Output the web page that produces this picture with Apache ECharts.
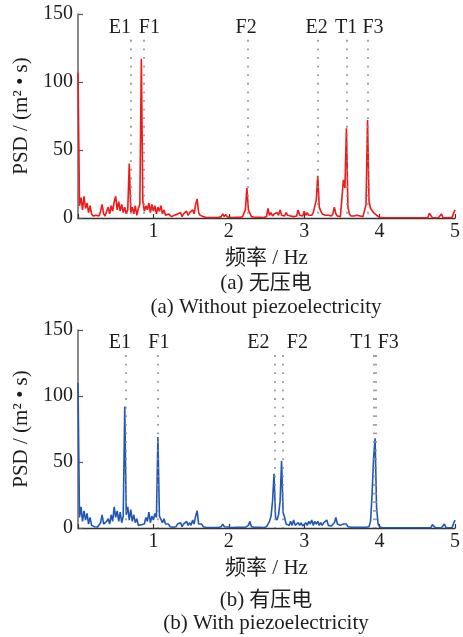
<!DOCTYPE html>
<html>
<head>
<meta charset="utf-8">
<script src="https://cdn.jsdelivr.net/npm/echarts@6/dist/echarts.min.js"></script>
<style>
  html, body { margin: 0; padding: 0; background: #fff; }
  #chart { width: 463px; height: 637px; }
</style>
</head>
<body>
<div id="chart"></div>
<script>
// Power spectral density of the response, sampled every 0.02 Hz from 0 to 5 Hz
const FREQ_STEP = 0.02;

// (a) without piezoelectric elements
const psdWithout = [
  107, 9, 15, 6, 16, 7, 11, 4, 9, 3,
  1.5, 1, 2, 0.8, 1.5, 5, 10, 3, 1.5, 5,
  8, 3, 9, 5, 12, 16, 6, 12, 5, 10,
  4, 8, 3, 6, 40, 4, 8, 3, 9, 2,
  7, 10, 117, 12, 5, 9, 6, 11, 4, 10,
  5, 9, 3, 8, 5, 9, 3, 6, 2, 1,
  3, 4, 1, 0.5, 2, 1, 3, 2, 4, 1,
  3, 2, 5, 2, 4, 3, 6, 3, 10, 14,
  4, 2, 3, 1, 0.5, 0.4, 0.6, 0.4, 0.5, 0.3,
  0.5, 0.4, 0.6, 0.4, 0.5, 1, 3, 1, 2.5, 0.8,
  1, 0.5, 0.6, 0.4, 0.8, 0.5, 0.7, 0.5, 1, 0.8,
  2, 6, 22, 6, 5, 1, 0.8, 0.5, 0.6, 0.5,
  0.8, 0.5, 0.6, 0.4, 0.6, 1, 7, 2, 4, 1.5,
  3, 2, 4, 2, 6, 2, 3, 1.5, 4, 2,
  3, 1.5, 2.5, 1, 2, 1.5, 6, 2, 3, 1.5,
  5, 2, 4, 2, 3, 2, 4, 5, 13, 31,
  8, 5, 3, 4, 2, 3, 2, 3, 1.5, 3,
  8, 3, 1.5, 2, 1, 2, 28, 22, 66, 8,
  3, 1.5, 1, 1.5, 1, 2, 1, 1.5, 0.8, 1,
  2, 10, 72, 12, 7, 8, 4, 5, 2, 3,
  0.5, 0.3, 0.2, 0.2, 0.2, 0.2, 0.2, 0.2, 0.2, 0.2,
  0.2, 0.2, 0.2, 0.2, 0.2, 0.2, 0.2, 0.2, 0.2, 0.2,
  0.2, 0.2, 0.2, 0.2, 0.2, 0.2, 0.2, 0.2, 0.2, 0.2,
  0.2, 0.2, 0.3, 3.5, 3.5, 0.3, 0.2, 0.2, 0.2, 0.2,
  0.3, 3, 0.3, 0.2, 0.2, 0.2, 0.3, 1, 0.3, 0.2,
  6
];

// (b) with piezoelectric elements
const psdWith = [
  110, 8, 16, 5, 13, 6, 11, 3, 8, 2,
  1.5, 1, 2, 0.8, 1.5, 4, 10, 3, 1.5, 5,
  7, 3, 10, 5, 16, 8, 13, 5, 12, 4,
  9, 92, 10, 16, 6, 14, 5, 10, 4, 7,
  2, 1.5, 2.5, 1, 3, 8, 5, 12, 4, 9,
  6, 11, 8, 69, 9, 8, 4, 7, 3, 2,
  3, 1, 2, 0.5, 2, 1, 3, 1.5, 4, 1,
  3, 2, 5, 2, 4, 2, 6, 3, 9, 13,
  3, 2, 3, 1, 0.5, 0.4, 0.6, 0.4, 0.5, 0.3,
  0.5, 0.4, 0.6, 0.4, 0.5, 1, 3, 1, 2.5, 0.8,
  1, 0.5, 0.6, 0.4, 0.8, 0.5, 0.7, 0.5, 1, 0.6,
  0.8, 0.5, 0.7, 2, 5, 1, 0.6, 0.5, 0.6, 0.5,
  0.8, 0.5, 0.6, 0.4, 0.6, 1, 3, 5, 9, 20,
  41, 8, 6, 10, 20, 51, 12, 8, 3, 4,
  2, 5, 2, 6, 2, 3, 4, 2, 4, 1.5,
  3, 4, 2, 5, 3, 6, 2, 5, 3, 5,
  2, 4, 2, 4, 3, 6, 2, 3, 1.5, 3,
  4, 8, 3, 1.5, 2, 1, 3, 2, 3, 1,
  0.8, 0.5, 1, 0.6, 0.8, 0.5, 1.5, 0.6, 0.8, 0.5,
  1, 0.6, 0.8, 1, 5, 25, 53, 68, 15, 3,
  1, 0.3, 0.2, 0.2, 0.2, 0.2, 0.2, 0.2, 0.2, 0.2,
  0.2, 0.2, 0.2, 0.2, 0.2, 0.2, 0.2, 0.2, 0.2, 0.2,
  0.2, 0.2, 0.2, 0.2, 0.2, 0.2, 0.2, 0.2, 0.2, 0.2,
  0.2, 0.2, 0.2, 0.2, 0.3, 2.5, 2.5, 0.3, 0.2, 0.2,
  0.2, 0.2, 0.3, 3, 0.3, 0.2, 0.2, 0.2, 0.3, 1,
  6
];

// Identified modes (name, frequency in Hz)
const modesWithout = ['E1', 'F1', 'F2', 'E2', 'T1', 'F3'];
const modeFreqWithout = [0.70, 0.867, 2.257, 3.178, 3.568, 3.846];
const modesWith = ['E1', 'F1', 'E2', 'F2', 'T1', 'F3'];
const modeFreqWith = [0.634, 1.06, 2.605, 2.71, 3.917, 3.943];

// Axis ranges and labels
const xRange = [0, 5];
const xStep = 1;
const yRange = [0, 150];
const yStep = 50;
const xName = '频率 / Hz';
const yName = 'PSD / (m² • s)';
const captionsA = ['(a) 无压电', '(a) Without piezoelectricity'];
const captionsB = ['(b) 有压电', '(b) With piezoelectricity'];

// Heights (in PSD units) where mode guides end and where their names sit
const guideTop = 131;
const nameLevel = 140;

// Horizontal nudges (px) that keep neighbouring mode names apart
const nudgeA = [-11, 6, -2, -1, -1, 5];
const nudgeB = [-6, 1, -16, 15, -12, 13];

const SERIF = "'Liberation Serif', 'Times New Roman', 'Noto Sans CJK SC', serif";
const TEXT = '#1e1e1e';
const FONT_TICK = 20;
const FONT_TEXT = 21;

function pairs(values) {
  return values.map((v, i) => [+(i * FREQ_STEP).toFixed(2), v]);
}

function xAxisFor(idx) {
  return {
    type: 'value', gridIndex: idx, min: xRange[0], max: xRange[1], interval: xStep,
    axisLine: { show: true, lineStyle: { color: '#333', width: 1.3 } },
    axisTick: { show: true, inside: true, length: 4, lineStyle: { color: '#333', width: 1.2 } },
    axisLabel: {
      margin: 4, color: TEXT, fontSize: FONT_TICK, fontFamily: SERIF,
      formatter: v => (v === 0 ? '' : String(v))
    },
    splitLine: { show: false },
    name: xName, nameLocation: 'middle', nameGap: 30,
    nameTextStyle: { color: TEXT, fontSize: FONT_TEXT, fontFamily: SERIF }
  };
}

function yAxisFor(idx) {
  return {
    type: 'value', gridIndex: idx, min: yRange[0], max: yRange[1], interval: yStep,
    axisLine: { show: true, lineStyle: { color: '#666', width: 1.5 } },
    axisTick: { show: true, inside: true, length: 5, lineStyle: { color: '#555', width: 1.2 } },
    axisLabel: { margin: 5, color: TEXT, fontSize: FONT_TICK, fontFamily: SERIF },
    splitLine: { show: false },
    name: yName, nameLocation: 'middle', nameGap: 43, nameRotate: 90,
    nameTextStyle: { color: TEXT, fontSize: FONT_TEXT, fontFamily: SERIF }
  };
}

function psdSeries(idx, values, color, freqs) {
  return {
    type: 'line', xAxisIndex: idx, yAxisIndex: idx,
    data: pairs(values), showSymbol: false, symbol: 'none',
    lineStyle: { color: color, width: 1.6 },
    z: 2,
    markLine: {
      silent: true, symbol: ['none', 'none'], animation: false,
      label: { show: false },
      lineStyle: { color: '#8c8c8c', width: 1.6, type: [1.8, 6.8] },
      data: freqs.map(f => [{ coord: [f, guideTop] }, { coord: [f, 0] }])
    }
  };
}

function modeNameSeries(idx, names, freqs, nudges) {
  return {
    type: 'scatter', xAxisIndex: idx, yAxisIndex: idx,
    symbolSize: 0, silent: true, z: 5,
    itemStyle: { color: TEXT, opacity: 1 },
    data: freqs.map((f, i) => ({
      value: [f, nameLevel], name: names[i],
      label: { offset: [nudges[i], 0] }
    })),
    label: {
      show: true, position: [0, 0], align: 'center', verticalAlign: 'middle',
      formatter: p => p.name, opacity: 1,
      color: TEXT, textBorderWidth: 0, fontSize: FONT_TEXT - 1, fontFamily: SERIF
    }
  };
}

function caption(text, y) {
  return {
    type: 'text', x: 266, y: y, silent: true,
    style: {
      text: text, textAlign: 'center', textVerticalAlign: 'middle',
      fill: TEXT, font: FONT_TEXT + 'px ' + SERIF
    }
  };
}

const chart = echarts.init(document.getElementById('chart'), null, { renderer: 'canvas' });
chart.setOption({
  animation: false,
  backgroundColor: '#fff',
  grid: [
    { left: 78, right: 7, top: 14, height: 204 },
    { left: 78, right: 7, top: 330, height: 198 }
  ],
  xAxis: [xAxisFor(0), xAxisFor(1)],
  yAxis: [yAxisFor(0), yAxisFor(1)],
  series: [
    psdSeries(0, psdWithout, '#f01818', modeFreqWithout),
    psdSeries(1, psdWith, '#2157b5', modeFreqWith),
    modeNameSeries(0, modesWithout, modeFreqWithout, nudgeA),
    modeNameSeries(1, modesWith, modeFreqWith, nudgeB)
  ],
  graphic: [
    caption(captionsA[0], 283),
    caption(captionsA[1], 307),
    caption(captionsB[0], 600),
    caption(captionsB[1], 623)
  ]
});
</script>
</body>
</html>
